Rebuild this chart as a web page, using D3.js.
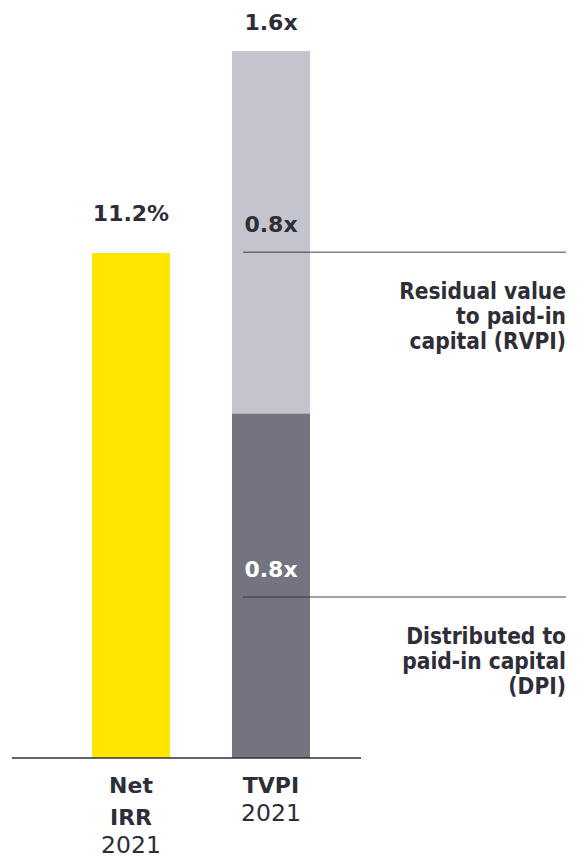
<!DOCTYPE html>
<html>
<head>
<meta charset="utf-8">
<script src="https://cdn.jsdelivr.net/npm/d3@7"></script>
<style>
    body { margin: 0; background: #ffffff; }
    #chart_container svg { display: block; }
</style>
</head>
<body>
<div id="chart_container"></div>
<script>

// data
var CATEGORIES = ["Net IRR", "TVPI"];
var CATEGORY_LINES = [["Net", "IRR"], ["TVPI"]];
var YEAR_LABEL = "2021";
var NET_IRR = 11.2;          // percent
var DPI = 0.78;              // distributed to paid-in capital (x)
var RVPI = 0.82;             // residual value to paid-in capital (x)
var TVPI_LABEL = "1.6x";
var IRR_LABEL = "11.2%";
var SEGMENT_LABELS = ["0.8x", "0.8x"];
var SEGMENT_NAMES = [
    ["Distributed to", "paid-in capital", "(DPI)"],
    ["Residual value", "to paid-in", "capital (RVPI)"]
];

var COLOR_IRR = "#ffe600";
var COLOR_DPI = "#747480";
var COLOR_RVPI = "#c4c4cd";
var COLOR_TEXT = "#2e2e38";

var WIDTH = 587, HEIGHT = 859;
var BASE_Y = 758, TOP_Y = 51;

var svg = d3.select("#chart_container")
    .append("svg")
    .attr("width", WIDTH)
    .attr("height", HEIGHT);

// x band for the two bars
var x = d3.scaleBand()
    .domain(CATEGORIES)
    .range([92, 310])
    .paddingInner(0.443)
    .paddingOuter(0);

// TVPI multiple scale
var yMult = d3.scaleLinear()
    .domain([0, DPI + RVPI])
    .range([BASE_Y, TOP_Y]);

// IRR on its own scale
var yIrr = d3.scaleLinear()
    .domain([0, 15.68])
    .range([BASE_Y, TOP_Y]);

// yellow bar
svg.append("rect")
    .attr("x", x("Net IRR"))
    .attr("y", yIrr(NET_IRR))
    .attr("width", x.bandwidth())
    .attr("height", BASE_Y - yIrr(NET_IRR))
    .attr("fill", COLOR_IRR);

// stacked TVPI bar
var stack = d3.stack().keys(["dpi", "rvpi"])([{dpi: DPI, rvpi: RVPI}]);
var segColors = [COLOR_DPI, COLOR_RVPI];

svg.selectAll("rect.seg")
    .data(stack)
    .enter()
    .append("rect")
    .attr("class", "seg")
    .attr("x", x("TVPI"))
    .attr("y", function(d) { return yMult(d[0][1]); })
    .attr("width", x.bandwidth())
    .attr("height", function(d) { return yMult(d[0][0]) - yMult(d[0][1]); })
    .attr("fill", function(d, i) { return segColors[i]; });

// baseline
svg.append("line")
    .attr("x1", 12)
    .attr("x2", 361)
    .attr("y1", BASE_Y)
    .attr("y2", BASE_Y)
    .attr("stroke", COLOR_TEXT)
    .attr("stroke-width", 1.5);

// value labels on top of bars
var cxIrr = x("Net IRR") + x.bandwidth() / 2;
var cxTvpi = x("TVPI") + x.bandwidth() / 2;

svg.append("text")
    .attr("x", cxIrr)
    .attr("y", yIrr(NET_IRR) - 32)
    .attr("text-anchor", "middle")
    .style("font", "bold 22px 'DejaVu Sans'")
    .attr("fill", COLOR_TEXT)
    .text(IRR_LABEL);

svg.append("text")
    .attr("x", cxTvpi)
    .attr("y", yMult(DPI + RVPI) - 21)
    .attr("text-anchor", "middle")
    .style("font", "bold 22px 'DejaVu Sans'")
    .attr("fill", COLOR_TEXT)
    .text(TVPI_LABEL);

// segment labels, leader lines and right side descriptions
stack.forEach(function(s, i) {
    var segBottom = yMult(s[0][0]);
    var lineY = segBottom - 161;
    var labelY = lineY - 20;

    svg.append("text")
        .attr("x", cxTvpi)
        .attr("y", labelY)
        .attr("text-anchor", "middle")
        .style("font", "bold 22px 'DejaVu Sans'")
        .attr("fill", i == 0 ? "#ffffff" : COLOR_TEXT)
        .text(SEGMENT_LABELS[i]);

    // semi transparent so it reads darker over the bar
    svg.append("line")
        .attr("x1", 243)
        .attr("x2", 566)
        .attr("y1", lineY)
        .attr("y2", lineY)
        .attr("stroke", COLOR_TEXT)
        .attr("stroke-opacity", 0.6)
        .attr("stroke-width", 1.5);

    var txt = svg.append("text")
        .attr("text-anchor", "end")
        .style("font-family", "'DejaVu Sans'")
        .style("font-weight", "bold")
        .style("font-stretch", "condensed")
        .style("font-size", "22.5px")
        .attr("fill", COLOR_TEXT);

    SEGMENT_NAMES[i].forEach(function(line, j) {
        txt.append("tspan")
            .attr("x", 566)
            .attr("y", lineY + 47 + j * 25)
            .text(line);
    });
});

// category labels under the baseline
CATEGORIES.forEach(function(cat, i) {
    var cx = x(cat) + x.bandwidth() / 2;
    var lines = CATEGORY_LINES[i];
    var t = svg.append("text")
        .attr("text-anchor", "middle")
        .attr("fill", COLOR_TEXT);
    lines.forEach(function(line, j) {
        t.append("tspan")
            .attr("x", cx)
            .attr("y", 793 + j * 32)
            .style("font", "bold 22px 'DejaVu Sans'")
            .text(line);
    });
    t.append("tspan")
        .attr("x", cx)
        .attr("y", 789 + lines.length * 32)
        .style("font", "normal 23.5px 'DejaVu Sans'")
        .text(YEAR_LABEL);
});

</script>
</body>
</html>
